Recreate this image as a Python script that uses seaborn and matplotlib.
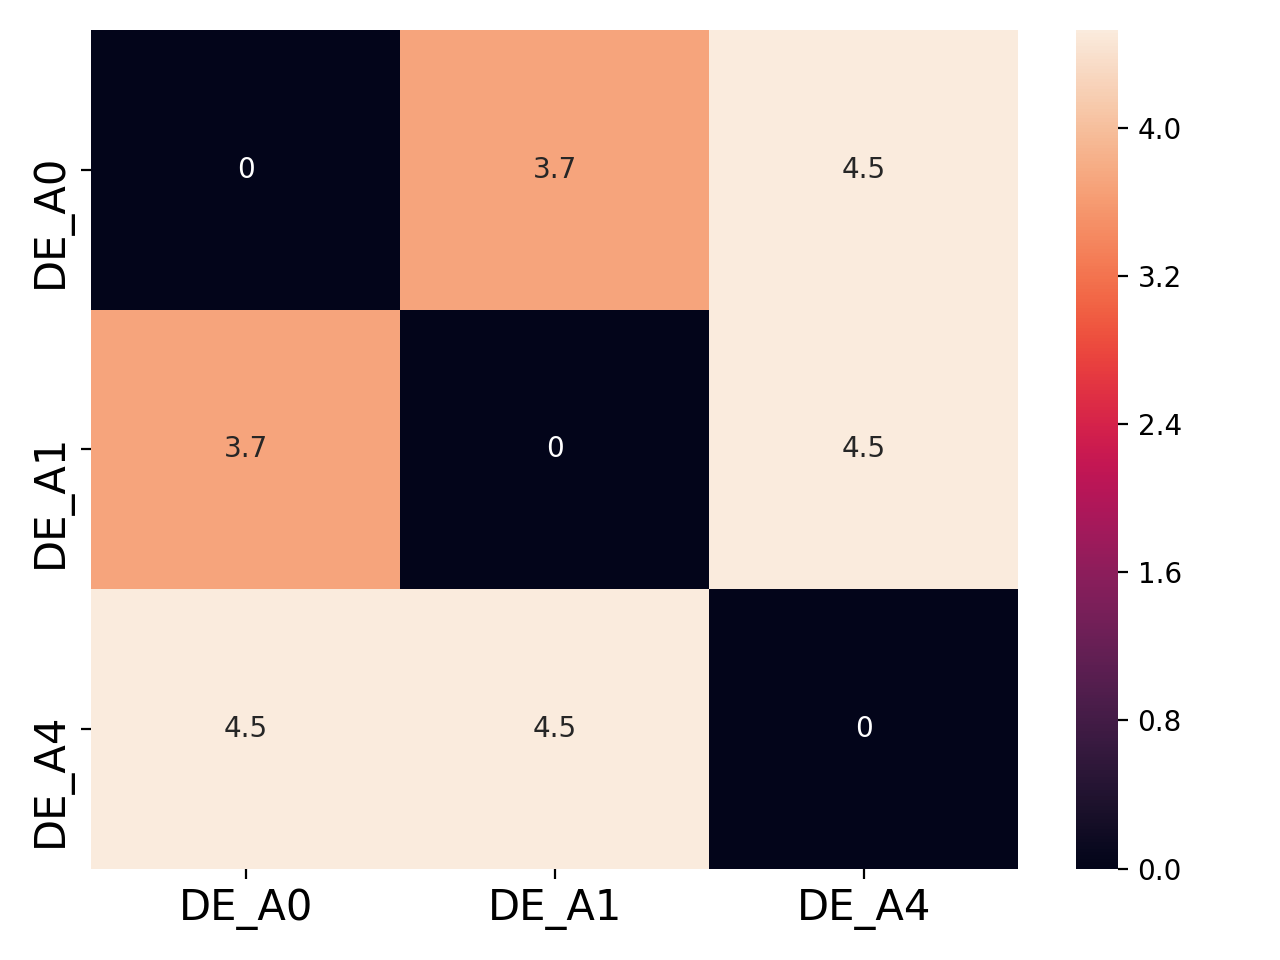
import numpy as np
import pandas as pd
import seaborn as sns
import matplotlib
matplotlib.use("Agg")
import matplotlib.pyplot as plt
from matplotlib.ticker import MultipleLocator

labels = ["DE_A0", "DE_A1", "DE_A4"]
dist_a0 = [0.0, 3.7, 4.53]
dist_a1 = [3.7, 0.0, 4.52]
dist_a4 = [4.53, 4.52, 0.0]

df = pd.DataFrame([dist_a0, dist_a1, dist_a4], index=labels, columns=labels)

fig, ax = plt.subplots(figsize=(6.4, 4.8), dpi=200)
sns.heatmap(df, annot=True, ax=ax)
ax.tick_params(axis='both', labelsize=15)
plt.setp(ax.get_yticklabels(), rotation=90, va='center_baseline')

cbar = ax.collections[0].colorbar
cbar.locator = MultipleLocator(0.8)
cbar.formatter = matplotlib.ticker.FormatStrFormatter('%.1f')
cbar.update_ticks()

plt.tight_layout()
fig.savefig("out.png", dpi=200)
